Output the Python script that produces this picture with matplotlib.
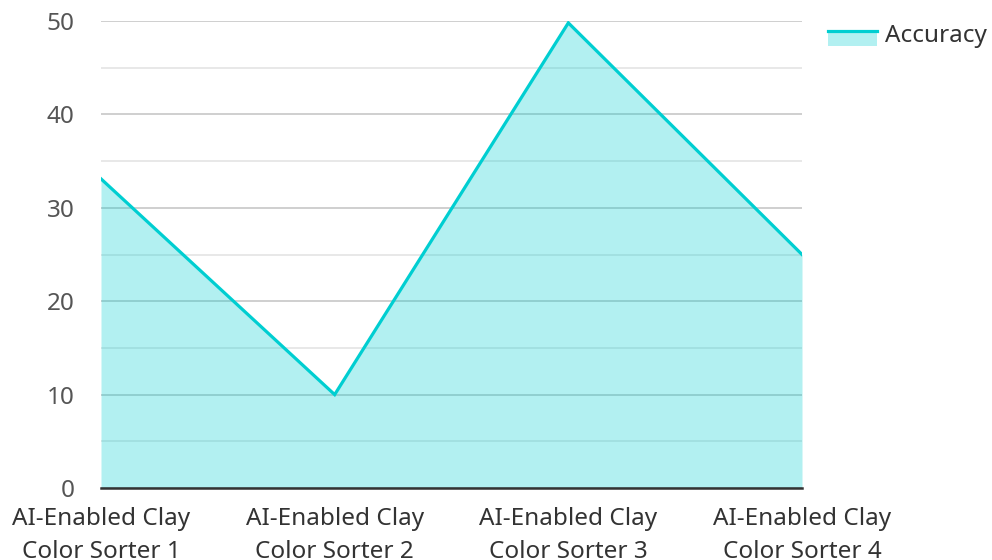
import matplotlib
matplotlib.use("Agg")
import matplotlib.pyplot as plt
from matplotlib.patches import Rectangle
from matplotlib.lines import Line2D
from matplotlib.legend_handler import HandlerBase
from matplotlib.ticker import MultipleLocator

plt.rcParams["font.family"] = ["Noto Sans", "DejaVu Sans"]

categories = ["AI-Enabled Clay\nColor Sorter 1", "AI-Enabled Clay\nColor Sorter 2",
              "AI-Enabled Clay\nColor Sorter 3", "AI-Enabled Clay\nColor Sorter 4"]
accuracy = [33.1, 10, 49.8, 25]

line_col = "#00CED1"
fill_col = "#00CED1"


class AreaHandler(HandlerBase):
    # filled box with the line along its top edge, sitting a bit below the text middle
    def create_artists(self, legend, orig, xd, yd, w, h, fontsize, trans):
        dy = -0.34 * h
        r = Rectangle((-xd, -yd + dy), w, h, facecolor=fill_col, alpha=0.3, lw=0, transform=trans)
        ln = Line2D([-xd, -xd + w], [-yd + h + dy] * 2, color=line_col, lw=2.3, transform=trans)
        return [r, ln]


fig = plt.figure(figsize=(9.92, 5.6), dpi=100)
ax = fig.add_axes([101/992, 1-488/560, 701/992, 467/560])

x = range(len(categories))
ax.fill_between(x, accuracy, 0, color=fill_col, alpha=0.3, lw=0, zorder=2)
ax.plot(x, accuracy, color=line_col, lw=2.3, zorder=3, solid_joinstyle="miter")

ax.set_xlim(0, len(categories) - 1)
ax.set_ylim(0, 50)
ax.yaxis.set_major_locator(MultipleLocator(10))
ax.yaxis.set_minor_locator(MultipleLocator(5))
ax.grid(axis="y", which="major", color="#cccccc", lw=1.3, zorder=1)
ax.grid(axis="y", which="minor", color="#e6e6e6", lw=1.3, zorder=1)
ax.set_axisbelow(True)
for s in ["top", "right", "left"]:
    ax.spines[s].set_visible(False)
ax.spines["bottom"].set_color("#333333")
ax.spines["bottom"].set_linewidth(1.8)
ax.spines["bottom"].set_zorder(4)

ax.set_xticks(list(x))
ax.set_xticklabels(categories, fontsize=17.5, color="#333333", linespacing=1.45)
ax.tick_params(axis="both", which="both", length=0)
ax.tick_params(axis="y", labelsize=17.5, labelcolor="#555555", pad=19)
ax.tick_params(axis="x", pad=14)

proxy = Rectangle((0, 0), 1, 1)
ax.legend([proxy], ["Accuracy"], handler_map={Rectangle: AreaHandler()},
          loc="upper left", bbox_to_anchor=(1.006, 1.041),
          frameon=False, fontsize=17.5, handlelength=2.0, handleheight=0.6,
          handletextpad=0.35, labelcolor="#333333")

fig.savefig("out.png", dpi=100)
